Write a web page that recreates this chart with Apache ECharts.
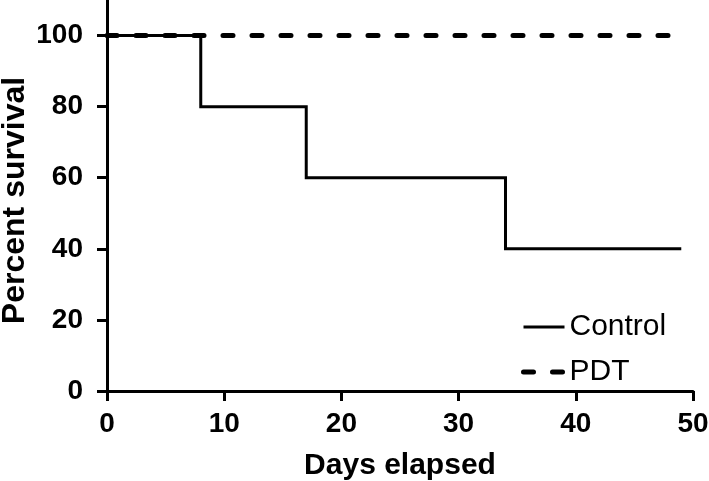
<!DOCTYPE html>
<html><head><meta charset="utf-8">
<script src="https://cdn.jsdelivr.net/npm/echarts@6/dist/echarts.min.js"></script>
<style>html,body{margin:0;padding:0;background:#fff}#c{width:709px;height:481px}</style>
</head><body><div id="c"></div>
<script>
const controlDays = [0, 8, 17, 34, 49];
const controlSurvival = [100, 80, 60, 40, 40];
const pdtDays = [0, 49];
const pdtSurvival = [100, 100];
const xTicks = [0, 10, 20, 30, 40, 50];
const yTicks = [0, 20, 40, 60, 80, 100];
const seriesNames = ['Control', 'PDT'];

const chart = echarts.init(document.getElementById('c'), null, {renderer: 'canvas'});
const font = 'Liberation Sans, Arial, Helvetica, sans-serif';
const axisCommon = {
  axisLine: {lineStyle: {color: '#000', width: 3}},
  axisTick: {inside: false, length: 10, lineStyle: {color: '#000', width: 3}},
  splitLine: {show: false},
  nameLocation: 'middle',
  nameMoveOverlap: false
};
const controlLine = {color: '#000', width: 3, cap: 'butt', join: 'miter'};
const pdtLine = {color: '#000', width: 5, type: [10, 19], cap: 'round'};
chart.setOption({
  animation: false,
  backgroundColor: '#fff',
  grid: {left: 107, right: 16, top: 0, bottom: 90, containLabel: false, outerBoundsMode: 'none'},
  xAxis: Object.assign({}, axisCommon, {
    type: 'value', min: 0, max: 50, interval: 10,
    name: 'Days elapsed', nameGap: 60,
    nameTextStyle: {fontFamily: font, fontWeight: 'bold', fontSize: 30, color: '#000'},
    axisTick: Object.assign({}, axisCommon.axisTick, {customValues: xTicks}),
    axisLabel: {customValues: xTicks, margin: 19, fontFamily: font, fontWeight: 'bold', fontSize: 28, color: '#000'}
  }),
  yAxis: Object.assign({}, axisCommon, {
    type: 'value', min: 0, max: 110, interval: 20,
    name: 'Percent survival', nameGap: 76, nameRotate: 90,
    nameTextStyle: {fontFamily: font, fontWeight: 'bold', fontSize: 32, color: '#000', padding: [0, 10, 0, 0]},
    axisTick: Object.assign({}, axisCommon.axisTick, {customValues: yTicks}),
    axisLabel: {customValues: yTicks, margin: 24, fontFamily: font, fontWeight: 'bold', fontSize: 28, color: '#000'}
  }),
  legend: {
    orient: 'vertical', left: 516, top: 307,
    itemWidth: 41, itemHeight: 30, itemGap: 15,
    itemStyle: {opacity: 0},
    textStyle: {fontFamily: font, fontSize: 30, color: '#000'},
    data: [
      {name: seriesNames[0], lineStyle: controlLine},
      {name: seriesNames[1], lineStyle: pdtLine}
    ]
  },
  series: [
    {
      name: seriesNames[0], type: 'line', step: 'end', symbol: 'none',
      data: controlDays.map((d, i) => [d, controlSurvival[i]]),
      lineStyle: controlLine,
      itemStyle: {color: '#000'}, z: 3
    },
    {
      name: seriesNames[1], type: 'line', symbol: 'none',
      data: pdtDays.map((d, i) => [d, pdtSurvival[i]]),
      lineStyle: pdtLine,
      itemStyle: {color: '#000'}, z: 4
    }
  ]
});
</script></body></html>
